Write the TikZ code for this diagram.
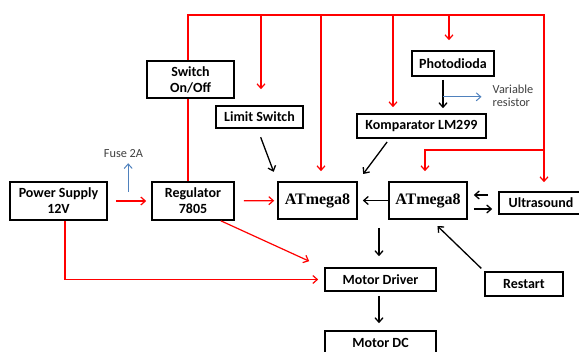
\documentclass[tikz,border=0pt]{standalone}
\usepackage{fontspec}
\setmainfont{Carlito}
\newfontfamily\serifbold{Liberation Serif}
\usetikzlibrary{arrows.meta}
\definecolor{cPow}{RGB}{255,0,0}
\definecolor{cEdge}{RGB}{0,0,0}
\definecolor{cNote}{RGB}{79,129,189}
\definecolor{cLab}{RGB}{64,64,64}
\tikzset{
  blk/.style={
    rectangle, draw=cEdge, line width=1.6pt, align=center, inner sep=1pt,
    font=\fontsize{14}{16}\selectfont\bfseries,
  },
  blkS/.style={blk, font=\serifbold\fontsize{16}{18}\selectfont\bfseries},
  lab/.style={font=\fontsize{12.3}{13}\selectfont, text=cLab, align=left, inner sep=0pt},
  wire/.style={line width=1.2pt, draw=cPow},
  pwr/.style={wire, -{Straight Barb[length=4.5pt,width=8pt]}},
  sig/.style={-{Straight Barb[length=4.5pt,width=8pt]}, line width=1.3pt, draw=cEdge},
  note/.style={-{Straight Barb[length=4.5pt,width=8pt]}, line width=1pt, draw=cNote},
}
\begin{document}
\begin{tikzpicture}[x=1pt, y=-1pt]
\useasboundingbox (0,0) rectangle (579,352);

% ===== blocks =====
\node[blk, minimum width=97pt, minimum height=38pt] (ps) at (58.5,201) {Power Supply\\12V};
\node[blk, minimum width=82pt, minimum height=38pt] (reg) at (193,201) {Regulator\\7805};
\node[blk, minimum width=87pt, minimum height=37pt] (sw) at (190.5,79.5) {Switch\\On/Off};
\node[blk, minimum width=87pt, minimum height=22pt] (lim) at (259.5,117) {Limit Switch};
\node[blk, minimum width=82pt, minimum height=25pt] (photo) at (453,63.5) {Photodioda};
\node[blk, minimum width=129pt, minimum height=24pt] (komp) at (421.5,126) {Komparator LM299};
\node[blkS, minimum width=79pt, minimum height=37pt] (mcuA) at (317.5,200.5) {ATmega8};
\node[blkS, minimum width=78pt, minimum height=37pt] (mcuB) at (428,200.5) {ATmega8};
\node[blk, minimum width=84pt, minimum height=22pt] (ultra) at (541,203) {Ultrasound};
\node[blk, minimum width=78pt, minimum height=24pt] (rest) at (524,284) {Restart};
\node[blk, minimum width=111pt, minimum height=23pt] (drv) at (380.5,279.5) {Motor Driver};
\node[blk, minimum width=111pt, minimum height=24pt] (mot) at (380.5,343) {Motor DC};

% ===== small labels =====
\node[lab] (fuse) at (123.5,154) {Fuse 2A};
\node[lab] (vres) at (513,95.5) {Variable\\resistor};

% ===== power lines (red) =====
\coordinate (busL) at (188,15);
\coordinate (busR) at (544,15);
\coordinate (tapR) at (544,150);
\draw[wire] (reg.north -| busL) -- (sw.south -| busL);
\draw[wire] (sw.north -| busL) -- (busL) -- (busR) -- (tapR);
\draw[pwr, shorten >=9pt] (tapR) -- (ultra.north -| tapR);
\draw[pwr, shorten >=10pt] (tapR) -| ([xshift=-3pt]mcuB.north);
\draw[pwr, shorten >=16pt] ([xshift=1.5pt]lim.north |- busL) -- ([xshift=1.5pt]lim.north);
\draw[pwr, shorten >=10pt] ([xshift=3.5pt]mcuA.north |- busL) -- ([xshift=3.5pt]mcuA.north);
\draw[pwr, shorten >=6pt] ([xshift=-28.5pt]komp.north |- busL) -- ([xshift=-28.5pt]komp.north);
\draw[pwr, shorten >=10pt] ([xshift=-4pt]photo.north |- busL) -- ([xshift=-4pt]photo.north);

\draw[pwr, shorten <=8pt, shorten >=5pt] (ps) -- (reg);
\draw[pwr, shorten <=9pt, shorten >=3pt] (reg) -- (mcuA);
\draw[pwr, shorten >=6pt] ([xshift=6.5pt]ps.south) |- (drv.west);
\draw[pwr] ([xshift=-14pt]reg.south east) -- ([xshift=-15pt,yshift=6pt]drv.north west);

% ===== signal lines (black) =====
\draw[sig, shorten <=9pt, shorten >=10pt] ([xshift=-2pt]lim.south) -- (mcuA.north west);
\draw[sig, shorten <=4pt, shorten >=9pt] ([xshift=-32pt]komp.south) -- (mcuA.north east);
\draw[sig, shorten <=3pt, shorten >=5pt] ([xshift=-10pt]photo.south) -- ([xshift=-10pt]photo.south |- komp.north);
\draw[sig, shorten >=5pt] (mcuB) -- (mcuA);
\draw[sig, shorten <=10pt, shorten >=6pt] ([yshift=8pt]ultra.west) -- ([yshift=8pt]ultra.west -| mcuB.east);
\draw[sig, shorten <=6pt, shorten >=6pt] ([yshift=-6pt]ultra.west -| mcuB.east) -- ([yshift=-6pt]ultra.west);
\draw[sig, shorten <=8pt, shorten >=11pt] ([xshift=-1.5pt]drv.north |- mcuB.south) -- ([xshift=-1.5pt]drv.north);
\draw[sig, shorten <=4pt, shorten >=9pt] (rest.north west) -- ([xshift=3pt]mcuB.south);
\draw[sig, shorten <=4pt, shorten >=7pt] ([xshift=-1.5pt]drv.south) -- ([xshift=-1.5pt]mot.north);

% ===== notes (blue) =====
\path ([xshift=-10pt]photo.south) -- ([xshift=-10pt]photo.south |- komp.north) coordinate[pos=0.55] (tapV);
\draw[note, shorten >=11pt] (tapV) -- (tapV -| vres.west);
\path (ps.east) -- (reg.west) coordinate[pos=0.47] (tapF);
\draw[note, shorten >=5pt] ([yshift=9pt]tapF) -- (tapF |- fuse.south);

\end{tikzpicture}
\end{document}
